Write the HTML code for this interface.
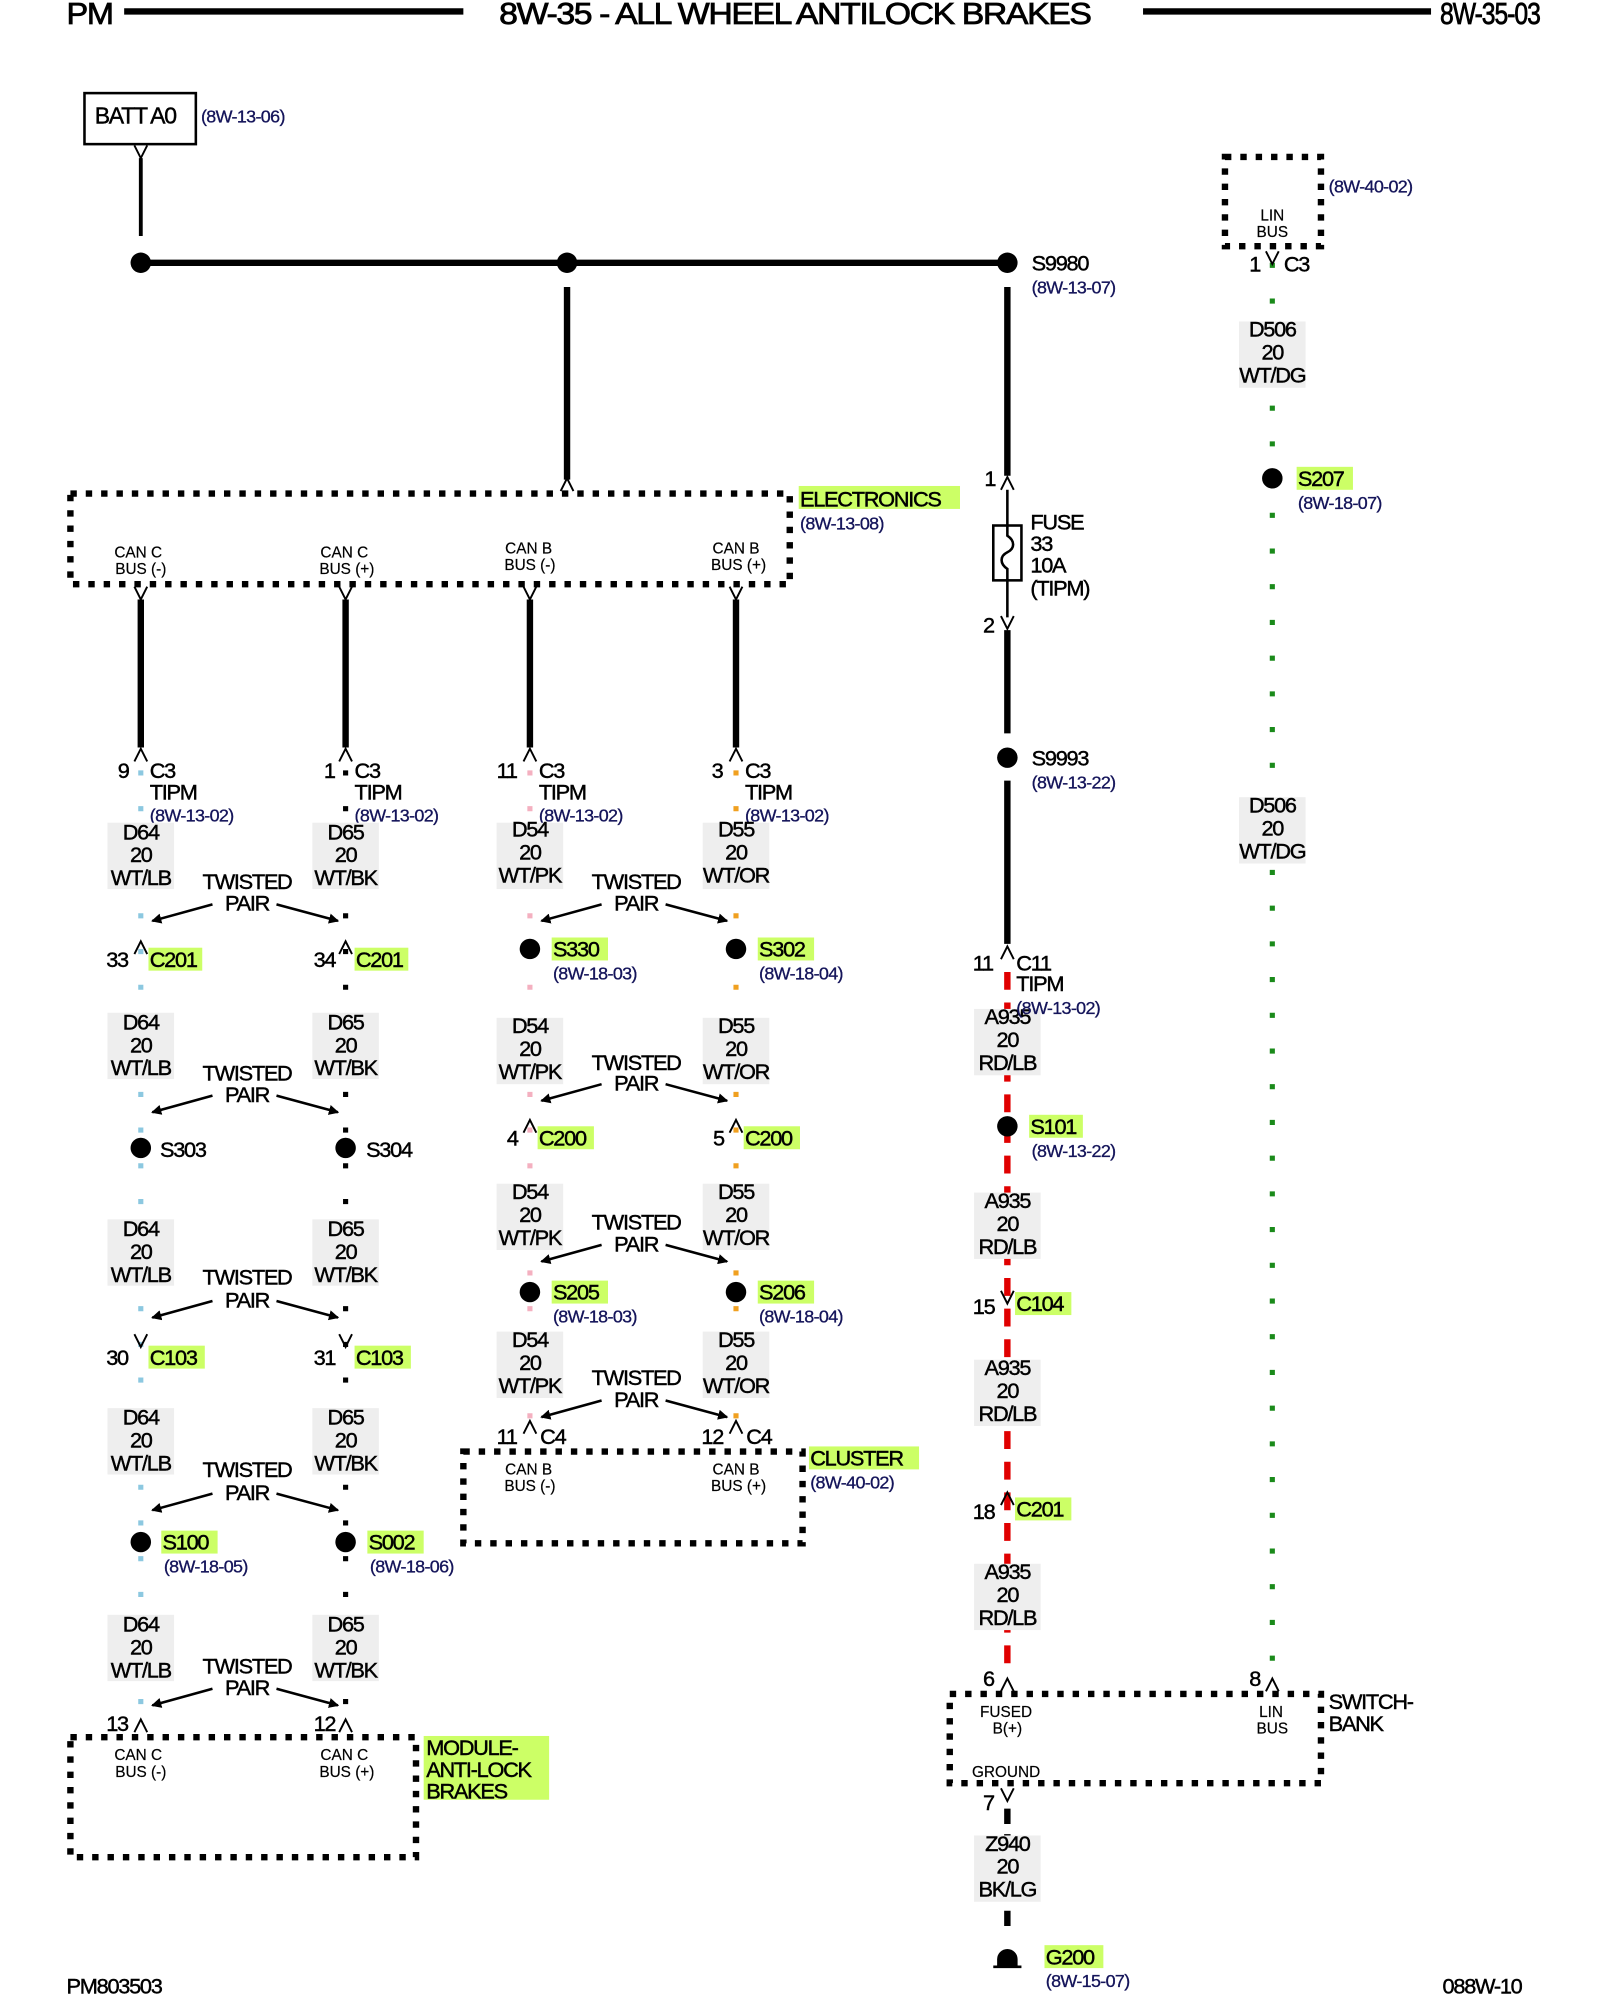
<!DOCTYPE html>
<html><head><meta charset="utf-8"><style>
html,body{margin:0;padding:0;background:#fff}
svg{display:block}
text{font-family:"Liberation Sans",sans-serif;fill:#000;stroke:#000;stroke-width:0.35px}
.w{font-size:17px;letter-spacing:-1px;text-anchor:middle}
.l{font-size:17px;letter-spacing:-1px}
.r{font-size:14px;fill:#14145a;stroke:#14145a;stroke-width:0.25px;letter-spacing:-0.5px}
.p{font-size:12px;text-anchor:middle;stroke-width:0.15px}
.h{font-size:24px;letter-spacing:-1px;stroke-width:0.6px}
.hl{fill:#ccff66}
.box{fill:none;stroke:#000;stroke-width:5;stroke-dasharray:5 7}
.bg{fill:#eeeeee}
.ch{fill:none;stroke:#000;stroke-width:1.5}
</style></head><body>
<svg width="1600" height="2000" viewBox="0 0 1250 1568" preserveAspectRatio="none" xmlns="http://www.w3.org/2000/svg">
<!-- header -->
<text x="52" y="19" class="h" textLength="36" lengthAdjust="spacingAndGlyphs">PM</text>
<line x1="97" y1="9" x2="362" y2="9" stroke="#000" stroke-width="5"/>
<text x="390" y="19" class="h" textLength="462" lengthAdjust="spacingAndGlyphs">8W-35 - ALL WHEEL ANTILOCK BRAKES</text>
<line x1="893" y1="9" x2="1118" y2="9" stroke="#000" stroke-width="5"/>
<text x="1125" y="19" class="h" textLength="78" lengthAdjust="spacingAndGlyphs">8W-35-03</text>

<!-- BATT -->
<rect x="66" y="73" width="87" height="40" fill="none" stroke="#000" stroke-width="2"/>
<text x="74" y="97" class="l" style="font-size:18px">BATT A0</text>
<text x="157" y="96" class="r">(8W-13-06)</text>
<path d="M105 114 L110 124 L115 114" class="ch"/>
<line x1="110" y1="124" x2="110" y2="185" stroke="#000" stroke-width="3"/>
<line x1="110" y1="206" x2="787" y2="206" stroke="#000" stroke-width="5"/>
<circle cx="110" cy="206" r="8"/><circle cx="443" cy="206" r="8"/><circle cx="787" cy="206" r="8"/>
<text x="806" y="212" class="l">S9980</text><text x="806" y="230" class="r">(8W-13-07)</text>
<line x1="443" y1="225" x2="443" y2="376" stroke="#000" stroke-width="5"/>
<path d="M438 385 L443 375 L448 385" class="ch"/>

<!-- Electronics box -->
<rect x="55" y="387" width="562" height="71" class="box"/>
<rect x="624" y="381" width="126" height="18" class="hl"/>
<text x="625" y="397" class="l">ELECTRONICS</text>
<text x="625" y="415" class="r">(8W-13-08)</text>
<text x="108" y="437" class="p">CAN C</text><text x="110" y="450" class="p">BUS (-)</text>
<text x="269" y="437" class="p">CAN C</text><text x="271" y="450" class="p">BUS (+)</text>
<text x="413" y="434" class="p">CAN B</text><text x="414" y="447" class="p">BUS (-)</text>
<text x="575" y="434" class="p">CAN B</text><text x="577" y="447" class="p">BUS (+)</text>
<g class="ch">
<path d="M105 460 L110 470 L115 460"/><path d="M265 460 L270 470 L275 460"/><path d="M409 460 L414 470 L419 460"/><path d="M570 460 L575 470 L580 460"/>
</g>
<g stroke="#000" stroke-width="5">
<line x1="110" y1="470" x2="110" y2="586"/><line x1="270" y1="470" x2="270" y2="586"/><line x1="414" y1="470" x2="414" y2="586"/><line x1="575" y1="470" x2="575" y2="586"/>
</g>

<!-- dotted wires -->
<g stroke-width="4" stroke-dasharray="4 24">
<line x1="110" y1="604" x2="110" y2="1345" stroke="#8cc8e0"/>
<line x1="270" y1="604" x2="270" y2="1345" stroke="#000"/>
<line x1="414" y1="604" x2="414" y2="1118" stroke="#f4b0c0"/>
<line x1="575" y1="604" x2="575" y2="1118" stroke="#f0a020"/>
<line x1="994" y1="206" x2="994" y2="1310" stroke="#1a8a1a"/>
</g>
<line x1="787" y1="762" x2="787" y2="1312" stroke="#e00000" stroke-width="5" stroke-dasharray="14 10"/>
<line x1="787" y1="1418" x2="787" y2="1515" stroke="#000" stroke-width="5" stroke-dasharray="12 8"/>

<!-- connectors ^ at 590 row -->
<g class="ch">
<path d="M105 597 L110 587 L115 597"/><path d="M265 597 L270 587 L275 597"/><path d="M409 597 L414 587 L419 597"/><path d="M570 597 L575 587 L580 597"/>
</g>
<text x="92" y="610" class="l">9</text><text x="117" y="610" class="l">C3</text><text x="117" y="627" class="l">TIPM</text><text x="117" y="644" class="r">(8W-13-02)</text>
<text x="253" y="610" class="l">1</text><text x="277" y="610" class="l">C3</text><text x="277" y="627" class="l">TIPM</text><text x="277" y="644" class="r">(8W-13-02)</text>
<text x="388" y="610" class="l">11</text><text x="421" y="610" class="l">C3</text><text x="421" y="627" class="l">TIPM</text><text x="421" y="644" class="r">(8W-13-02)</text>
<text x="556" y="610" class="l">3</text><text x="582" y="610" class="l">C3</text><text x="582" y="627" class="l">TIPM</text><text x="582" y="644" class="r">(8W-13-02)</text>

<!-- wire label blocks -->
<g class="bg">
<rect x="84" y="645" width="52" height="52"/><rect x="244" y="645" width="52" height="52"/><rect x="388" y="645" width="52" height="52"/><rect x="549" y="645" width="52" height="52"/>
<rect x="84" y="794" width="52" height="52"/><rect x="244" y="794" width="52" height="52"/><rect x="388" y="798" width="52" height="52"/><rect x="549" y="798" width="52" height="52"/>
<rect x="84" y="956" width="52" height="52"/><rect x="244" y="956" width="52" height="52"/><rect x="388" y="928" width="52" height="52"/><rect x="549" y="928" width="52" height="52"/>
<rect x="84" y="1104" width="52" height="52"/><rect x="244" y="1104" width="52" height="52"/><rect x="388" y="1044" width="52" height="52"/><rect x="549" y="1044" width="52" height="52"/>
<rect x="84" y="1266" width="52" height="52"/><rect x="244" y="1266" width="52" height="52"/>
<rect x="761" y="791" width="52" height="52"/><rect x="761" y="935" width="52" height="52"/><rect x="761" y="1066" width="52" height="52"/><rect x="761" y="1226" width="52" height="52"/>
<rect x="761" y="1439" width="52" height="52"/>
<rect x="968" y="252" width="52" height="52"/><rect x="968" y="625" width="52" height="52"/>
</g>
<g class="w">
<text x="110" y="658">D64</text><text x="110" y="676">20</text><text x="110" y="694">WT/LB</text>
<text x="270" y="658">D65</text><text x="270" y="676">20</text><text x="270" y="694">WT/BK</text>
<text x="414" y="656">D54</text><text x="414" y="674">20</text><text x="414" y="692">WT/PK</text>
<text x="575" y="656">D55</text><text x="575" y="674">20</text><text x="575" y="692">WT/OR</text>

<text x="110" y="807">D64</text><text x="110" y="825">20</text><text x="110" y="843">WT/LB</text>
<text x="270" y="807">D65</text><text x="270" y="825">20</text><text x="270" y="843">WT/BK</text>
<text x="414" y="810">D54</text><text x="414" y="828">20</text><text x="414" y="846">WT/PK</text>
<text x="575" y="810">D55</text><text x="575" y="828">20</text><text x="575" y="846">WT/OR</text>

<text x="110" y="969">D64</text><text x="110" y="987">20</text><text x="110" y="1005">WT/LB</text>
<text x="270" y="969">D65</text><text x="270" y="987">20</text><text x="270" y="1005">WT/BK</text>
<text x="414" y="940">D54</text><text x="414" y="958">20</text><text x="414" y="976">WT/PK</text>
<text x="575" y="940">D55</text><text x="575" y="958">20</text><text x="575" y="976">WT/OR</text>

<text x="110" y="1117">D64</text><text x="110" y="1135">20</text><text x="110" y="1153">WT/LB</text>
<text x="270" y="1117">D65</text><text x="270" y="1135">20</text><text x="270" y="1153">WT/BK</text>
<text x="414" y="1056">D54</text><text x="414" y="1074">20</text><text x="414" y="1092">WT/PK</text>
<text x="575" y="1056">D55</text><text x="575" y="1074">20</text><text x="575" y="1092">WT/OR</text>

<text x="110" y="1279">D64</text><text x="110" y="1297">20</text><text x="110" y="1315">WT/LB</text>
<text x="270" y="1279">D65</text><text x="270" y="1297">20</text><text x="270" y="1315">WT/BK</text>

<text x="787" y="803">A935</text><text x="787" y="821">20</text><text x="787" y="839">RD/LB</text>
<text x="787" y="947">A935</text><text x="787" y="965">20</text><text x="787" y="983">RD/LB</text>
<text x="787" y="1078">A935</text><text x="787" y="1096">20</text><text x="787" y="1114">RD/LB</text>
<text x="787" y="1238">A935</text><text x="787" y="1256">20</text><text x="787" y="1274">RD/LB</text>
<text x="787" y="1451">Z940</text><text x="787" y="1469">20</text><text x="787" y="1487">BK/LG</text>
<text x="994" y="264">D506</text><text x="994" y="282">20</text><text x="994" y="300">WT/DG</text>
<text x="994" y="637">D506</text><text x="994" y="655">20</text><text x="994" y="673">WT/DG</text>

<!-- twisted pairs -->
<text x="193" y="697">TWISTED</text><text x="193" y="714">PAIR</text>
<text x="193" y="847">TWISTED</text><text x="193" y="864">PAIR</text>
<text x="193" y="1007">TWISTED</text><text x="193" y="1025">PAIR</text>
<text x="193" y="1158">TWISTED</text><text x="193" y="1176">PAIR</text>
<text x="193" y="1312">TWISTED</text><text x="193" y="1329">PAIR</text>
<text x="497" y="697">TWISTED</text><text x="497" y="714">PAIR</text>
<text x="497" y="839">TWISTED</text><text x="497" y="855">PAIR</text>
<text x="497" y="964">TWISTED</text><text x="497" y="981">PAIR</text>
<text x="497" y="1086">TWISTED</text><text x="497" y="1103">PAIR</text>
</g>
<defs><marker id="a" markerWidth="8" markerHeight="8" refX="7" refY="4" orient="auto" markerUnits="userSpaceOnUse"><path d="M0 0 L8 4 L0 8 Z"/></marker></defs>
<g stroke="#000" stroke-width="2" marker-end="url(#a)">
<line x1="166" y1="709" x2="119" y2="722"/><line x1="216" y1="709" x2="264" y2="722"/>
<line x1="166" y1="859" x2="119" y2="872"/><line x1="216" y1="859" x2="264" y2="872"/>
<line x1="166" y1="1020" x2="119" y2="1033"/><line x1="216" y1="1020" x2="264" y2="1033"/>
<line x1="166" y1="1171" x2="119" y2="1184"/><line x1="216" y1="1171" x2="264" y2="1184"/>
<line x1="166" y1="1324" x2="119" y2="1337"/><line x1="216" y1="1324" x2="264" y2="1337"/>
<line x1="470" y1="709" x2="423" y2="722"/><line x1="520" y1="709" x2="568" y2="722"/>
<line x1="470" y1="850" x2="423" y2="863"/><line x1="520" y1="850" x2="568" y2="863"/>
<line x1="470" y1="976" x2="423" y2="989"/><line x1="520" y1="976" x2="568" y2="989"/>
<line x1="470" y1="1098" x2="423" y2="1111"/><line x1="520" y1="1098" x2="568" y2="1111"/>
</g>

<!-- left column connectors / splices -->
<g class="ch">
<path d="M105 748 L110 738 L115 748"/><path d="M265 748 L270 738 L275 748"/>
<path d="M105 1046 L110 1056 L115 1046"/><path d="M265 1046 L270 1056 L275 1046"/>
<path d="M105 1358 L110 1348 L115 1358"/><path d="M265 1358 L270 1348 L275 1358"/>
<path d="M409 888 L414 878 L419 888"/><path d="M570 888 L575 878 L580 888"/>
<path d="M409 1124 L414 1114 L419 1124"/><path d="M570 1124 L575 1114 L580 1124"/>
<path d="M782 384 L787 374 L792 384"/><path d="M782 483 L787 493 L792 483"/>
<path d="M782 752 L787 742 L792 752"/><path d="M782 1012 L787 1022 L792 1012"/>
<path d="M782 1180 L787 1170 L792 1180"/><path d="M782 1326 L787 1316 L792 1326"/>
<path d="M782 1402 L787 1412 L792 1402"/>
<path d="M989 1326 L994 1316 L999 1326"/><path d="M989 197 L994 207 L999 197"/>
</g>
<rect x="116" y="743" width="42" height="18" class="hl"/><rect x="277" y="743" width="42" height="18" class="hl"/>
<text x="83" y="758" class="l">33</text><text x="117" y="758" class="l">C201</text>
<text x="245" y="758" class="l">34</text><text x="278" y="758" class="l">C201</text>
<circle cx="110" cy="900" r="8"/><circle cx="270" cy="900" r="8"/>
<text x="125" y="907" class="l">S303</text><text x="286" y="907" class="l">S304</text>
<rect x="116" y="1055" width="44" height="18" class="hl"/><rect x="277" y="1055" width="44" height="18" class="hl"/>
<text x="83" y="1070" class="l">30</text><text x="117" y="1070" class="l">C103</text>
<text x="245" y="1070" class="l">31</text><text x="278" y="1070" class="l">C103</text>
<circle cx="110" cy="1209" r="8"/><circle cx="270" cy="1209" r="8"/>
<rect x="126" y="1200" width="44" height="18" class="hl"/><rect x="287" y="1200" width="44" height="18" class="hl"/>
<text x="127" y="1215" class="l">S100</text><text x="128" y="1233" class="r">(8W-18-05)</text>
<text x="288" y="1215" class="l">S002</text><text x="289" y="1233" class="r">(8W-18-06)</text>
<text x="83" y="1357" class="l">13</text><text x="245" y="1357" class="l">12</text>
<rect x="55" y="1362" width="270" height="94" class="box"/>
<text x="108" y="1380" class="p">CAN C</text><text x="110" y="1393" class="p">BUS (-)</text>
<text x="269" y="1380" class="p">CAN C</text><text x="271" y="1393" class="p">BUS (+)</text>
<rect x="331" y="1361" width="98" height="50" class="hl"/>
<text x="333" y="1376" class="l">MODULE-</text><text x="333" y="1393" class="l">ANTI-LOCK</text><text x="333" y="1410" class="l">BRAKES</text>

<!-- middle column -->
<circle cx="414" cy="744" r="8"/><circle cx="575" cy="744" r="8"/>
<rect x="431" y="735" width="44" height="18" class="hl"/><rect x="592" y="735" width="44" height="18" class="hl"/>
<text x="432" y="750" class="l">S330</text><text x="432" y="768" class="r">(8W-18-03)</text>
<text x="593" y="750" class="l">S302</text><text x="593" y="768" class="r">(8W-18-04)</text>
<rect x="420" y="883" width="44" height="18" class="hl"/><rect x="581" y="883" width="44" height="18" class="hl"/>
<text x="396" y="898" class="l">4</text><text x="421" y="898" class="l">C200</text>
<text x="557" y="898" class="l">5</text><text x="582" y="898" class="l">C200</text>
<circle cx="414" cy="1013" r="8"/><circle cx="575" cy="1013" r="8"/>
<rect x="431" y="1004" width="44" height="18" class="hl"/><rect x="592" y="1004" width="44" height="18" class="hl"/>
<text x="432" y="1019" class="l">S205</text><text x="432" y="1037" class="r">(8W-18-03)</text>
<text x="593" y="1019" class="l">S206</text><text x="593" y="1037" class="r">(8W-18-04)</text>
<text x="388" y="1132" class="l">11</text><text x="422" y="1132" class="l">C4</text>
<text x="548" y="1132" class="l">12</text><text x="583" y="1132" class="l">C4</text>
<rect x="362" y="1138" width="265" height="72" class="box"/>
<text x="413" y="1156" class="p">CAN B</text><text x="414" y="1169" class="p">BUS (-)</text>
<text x="575" y="1156" class="p">CAN B</text><text x="577" y="1169" class="p">BUS (+)</text>
<rect x="632" y="1134" width="86" height="18" class="hl"/>
<text x="633" y="1149" class="l">CLUSTER</text><text x="633" y="1167" class="r">(8W-40-02)</text>

<!-- right column -->
<line x1="787" y1="225" x2="787" y2="373" stroke="#000" stroke-width="5"/>
<line x1="787" y1="384" x2="787" y2="484" stroke="#000" stroke-width="2"/>
<rect x="776" y="412" width="22" height="43" fill="#fff" stroke="#000" stroke-width="2"/>
<path d="M787 412 L787 420 C793 424 793 430 787 433 C781 436 781 442 787 446 L787 455" fill="none" stroke="#000" stroke-width="2"/>
<text x="769" y="381" class="l">1</text><text x="768" y="496" class="l">2</text>
<text x="805" y="415" class="l">FUSE</text><text x="805" y="432" class="l">33</text><text x="805" y="449" class="l">10A</text><text x="805" y="467" class="l">(TIPM)</text>
<line x1="787" y1="494" x2="787" y2="575" stroke="#000" stroke-width="5"/>
<circle cx="787" cy="594" r="8"/>
<text x="806" y="600" class="l">S9993</text><text x="806" y="618" class="r">(8W-13-22)</text>
<line x1="787" y1="612" x2="787" y2="740" stroke="#000" stroke-width="5"/>
<text x="760" y="761" class="l">11</text><text x="794" y="761" class="l">C11</text><text x="794" y="777" class="l">TIPM</text><text x="794" y="795" class="r">(8W-13-02)</text>
<circle cx="787" cy="883" r="8"/>
<rect x="804" y="874" width="42" height="18" class="hl"/>
<text x="805" y="889" class="l">S101</text><text x="806" y="907" class="r">(8W-13-22)</text>
<rect x="793" y="1013" width="44" height="18" class="hl"/>
<text x="760" y="1030" class="l">15</text><text x="794" y="1028" class="l">C104</text>
<rect x="793" y="1174" width="44" height="18" class="hl"/>
<text x="760" y="1191" class="l">18</text><text x="794" y="1189" class="l">C201</text>
<text x="768" y="1322" class="l">6</text><text x="976" y="1322" class="l">8</text>
<rect x="742" y="1328" width="290" height="70" class="box"/>
<text x="786" y="1346" class="p">FUSED</text><text x="787" y="1359" class="p">B(+)</text>
<text x="993" y="1346" class="p">LIN</text><text x="994" y="1359" class="p">BUS</text>
<text x="786" y="1393" class="p">GROUND</text>
<text x="1038" y="1340" class="l">SWITCH-</text><text x="1038" y="1357" class="l">BANK</text>
<text x="768" y="1419" class="l">7</text>
<path d="M779 1542 L779 1536 A8 8 0 0 1 795 1536 L795 1542 Z"/>
<line x1="776" y1="1542" x2="798" y2="1542" stroke="#000" stroke-width="2"/>
<rect x="816" y="1525" width="46" height="18" class="hl"/>
<text x="817" y="1540" class="l">G200</text><text x="817" y="1558" class="r">(8W-15-07)</text>

<!-- far right -->
<rect x="957" y="123" width="75" height="70" class="box"/>
<text x="994" y="173" class="p">LIN</text><text x="994" y="186" class="p">BUS</text>
<text x="1038" y="151" class="r">(8W-40-02)</text>
<text x="976" y="213" class="l">1</text><text x="1003" y="213" class="l">C3</text>
<circle cx="994" cy="375" r="8"/>
<rect x="1013" y="366" width="44" height="18" class="hl"/>
<text x="1014" y="381" class="l">S207</text><text x="1014" y="399" class="r">(8W-18-07)</text>

<!-- footer -->
<text x="52" y="1563" class="l">PM803503</text>
<text x="1127" y="1563" class="l">088W-10</text>
</svg>
</body></html>
